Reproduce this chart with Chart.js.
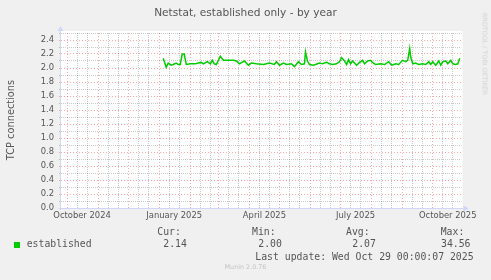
<!DOCTYPE html>
<html><head><meta charset="utf-8">
<script src="https://cdn.jsdelivr.net/npm/chart.js@4/dist/chart.umd.min.js"></script>
<style>
html,body{margin:0;padding:0;background:#F0F0F0;}
#wrap{position:relative;width:491px;height:280px;overflow:hidden;background:#F0F0F0;}
canvas{position:absolute;left:0;top:0;}
.t{position:absolute;white-space:pre;color:#555;}
.s{font-family:"DejaVu Sans",sans-serif;}
.m{font-family:"DejaVu Sans Mono",monospace;font-size:9.8px;line-height:10px;}
</style></head><body>
<div id="wrap">
<canvas id="c" width="491" height="280"></canvas>
<div class="t s" style="left:0;width:491px;text-align:center;top:5.5px;font-size:10.6px;line-height:12px;">Netstat, established only - by year</div>
<div class="t s" style="left:9.5px;top:120px;font-size:9.8px;line-height:11px;transform:translate(-50%,-50%) rotate(-90deg);">TCP connections</div>
<div class="t s" style="left:484px;top:54px;font-size:6.4px;line-height:7px;color:#d2d2d2;transform:translate(-50%,-50%) rotate(90deg);">RRDTOOL / TOBI OETIKER</div>
<div style="position:absolute;left:14px;top:242px;width:6px;height:6px;background:#00CC00;"></div>
<div class="t m" style="left:26.7px;top:239.3px;">established</div>
<div class="t m" style="left:157.3px;top:227.3px;">Cur:</div>
<div class="t m" style="left:163.3px;top:239.3px;">2.14</div>
<div class="t m" style="left:252px;top:227.3px;">Min:</div>
<div class="t m" style="left:258.3px;top:239.3px;">2.00</div>
<div class="t m" style="left:346px;top:227.3px;">Avg:</div>
<div class="t m" style="left:352.3px;top:239.3px;">2.07</div>
<div class="t m" style="left:440.7px;top:227.3px;">Max:</div>
<div class="t m" style="left:441px;top:239.3px;">34.56</div>
<div class="t m" style="left:255.3px;top:251.7px;">Last update: Wed Oct 29 00:00:07 2025</div>
<div class="t s" style="left:0;width:491px;text-align:center;top:264px;font-size:6.4px;line-height:7px;color:#c4c4c4;">Munin 2.0.76</div>
</div>
<script>
// ---- data ----
const dates = [
 '2025-01-05','2025-01-08','2025-01-10','2025-01-13','2025-01-15','2025-01-18','2025-01-20','2025-01-22','2025-01-24','2025-01-26','2025-01-28',
 '2025-02-01','2025-02-06','2025-02-09','2025-02-12','2025-02-14','2025-02-18','2025-02-21','2025-02-23','2025-02-25','2025-02-27',
 '2025-03-03','2025-03-06','2025-03-11','2025-03-16','2025-03-19','2025-03-22','2025-03-27','2025-03-31',
 '2025-04-03','2025-04-08','2025-04-15','2025-04-21','2025-04-26','2025-04-28',
 '2025-05-01','2025-05-05','2025-05-08','2025-05-13','2025-05-16','2025-05-20','2025-05-23','2025-05-26','2025-05-27','2025-05-29','2025-05-31',
 '2025-06-04','2025-06-10','2025-06-13','2025-06-17','2025-06-20','2025-06-23','2025-06-27','2025-06-30',
 '2025-07-02','2025-07-05','2025-07-07','2025-07-09','2025-07-11','2025-07-13','2025-07-17','2025-07-20','2025-07-23','2025-07-25','2025-07-28','2025-07-31',
 '2025-08-02','2025-08-05','2025-08-10','2025-08-14','2025-08-18','2025-08-21','2025-08-25','2025-08-28',
 '2025-09-01','2025-09-04','2025-09-06','2025-09-08','2025-09-09','2025-09-11','2025-09-14','2025-09-17','2025-09-21','2025-09-24','2025-09-27','2025-09-29',
 '2025-10-01','2025-10-04','2025-10-07','2025-10-09','2025-10-11','2025-10-14','2025-10-16','2025-10-19','2025-10-21','2025-10-24','2025-10-26','2025-10-28'
];
const established = [
 2.14,2.01,2.07,2.04,2.05,2.07,2.05,2.05,2.20,2.20,2.05,
 2.06,2.06,2.07,2.08,2.06,2.09,2.06,2.11,2.06,2.05,
 2.17,2.11,2.11,2.11,2.10,2.06,2.10,2.04,
 2.07,2.06,2.05,2.07,2.05,2.09,
 2.04,2.07,2.05,2.06,2.02,2.09,2.05,2.06,2.23,2.10,2.05,
 2.04,2.07,2.06,2.08,2.06,2.05,2.06,2.09,
 2.15,2.10,2.05,2.12,2.06,2.10,2.04,2.08,2.11,2.06,2.10,2.11,
 2.08,2.05,2.06,2.05,2.09,2.04,2.06,2.05,
 2.11,2.09,2.11,2.28,2.16,2.06,2.07,2.05,2.06,2.05,2.09,2.05,
 2.09,2.04,2.10,2.04,2.09,2.10,2.06,2.11,2.06,2.05,2.06,2.14
];
const monthStarts = ['2024-10-01','2024-11-01','2024-12-01','2025-01-01','2025-02-01','2025-03-01','2025-04-01','2025-05-01','2025-06-01','2025-07-01','2025-08-01','2025-09-01','2025-10-01'];
const minorOffsets = [10, 20];
const xLabelDates = ['2024-10-16','2025-01-16','2025-04-16','2025-07-16','2025-10-16'];
const xLabels = ['October 2024','January 2025','April 2025','July 2025','October 2025'];
const xRange = ['2024-09-25', '2025-10-29'];
const yMajor = [0.0,0.2,0.4,0.6,0.8,1.0,1.2,1.4,1.6,1.8,2.0,2.2,2.4];
const yMinor = [0.1,0.3,0.5,0.7,0.9,1.1,1.3,1.5,1.7,1.9,2.1,2.3,2.5];

// ---- helpers ----
const ORIGIN = Date.UTC(2024, 9, 1);
const day = s => (Date.parse(s + 'T00:00:00Z') - ORIGIN) / 864e5;

const RED = 'rgba(255,40,40,0.4)';
const GREY = 'rgba(0,0,0,0.2)';
const AXIS = '#CFD6F8';

const xKind = new Map();
monthStarts.forEach(m => {
  const d = day(m);
  xKind.set(d, 'major');
  minorOffsets.forEach(o => xKind.set(d + o, 'minor'));
});
const xLabelMap = new Map();
xLabelDates.forEach((s, i) => { xKind.set(day(s), 'label'); xLabelMap.set(day(s), xLabels[i]); });
const xMin = day(xRange[0]), xMax = day(xRange[1]) + 0.7;
const xTickVals = [...xKind.keys()].filter(v => v >= xMin && v <= xMax).sort((a, b) => a - b);

const yKind = new Map();
yMajor.forEach(v => yKind.set(Math.round(v * 10), 'major'));
yMinor.forEach(v => yKind.set(Math.round(v * 10), 'minor'));

const points = dates.map((d, i) => ({ x: day(d), y: established[i] }));

const bgPlugin = {
  id: 'bg',
  beforeDraw(chart) {
    const { ctx, chartArea: a } = chart;
    ctx.save();
    ctx.fillStyle = '#FFFFFF';
    ctx.fillRect(a.left, a.top - 2, a.right - a.left + 1, a.bottom - a.top + 2);
    ctx.restore();
  }
};
const axisPlugin = {
  id: 'axes',
  afterDraw(chart) {
    const { ctx, chartArea: a } = chart;
    ctx.save();
    ctx.strokeStyle = AXIS; ctx.fillStyle = AXIS; ctx.lineWidth = 1; ctx.setLineDash([]);
    const yb = Math.round(a.bottom) + 0.5, xl = Math.round(a.left) - 0.5;
    ctx.beginPath();
    ctx.moveTo(xl - 2, yb); ctx.lineTo(a.right + 3, yb);
    ctx.moveTo(xl, a.bottom + 2); ctx.lineTo(xl, a.top - 3);
    ctx.stroke();
    ctx.beginPath();
    ctx.moveTo(a.right + 7, yb); ctx.lineTo(a.right + 2, yb - 3); ctx.lineTo(a.right + 2, yb + 3); ctx.closePath(); ctx.fill();
    ctx.beginPath();
    ctx.moveTo(xl, a.top - 7); ctx.lineTo(xl - 3, a.top - 2); ctx.lineTo(xl + 3, a.top - 2); ctx.closePath(); ctx.fill();
    ctx.restore();
  }
};

// dash per grid line: major (red) lines use wider gaps, minor (grey) lines fine dots
const xDash = c => xKind.get(c.tick && c.tick.value) === 'major' ? [1, 2] : [1, 1];
const yDash = c => yKind.get(Math.round((c.tick ? c.tick.value : 0) * 10)) === 'major' ? [1, 2] : [1, 1];

new Chart(document.getElementById('c'), {
  type: 'line',
  data: { datasets: [{
    label: 'established', data: points,
    borderColor: '#00CC00', borderWidth: 1.5, pointRadius: 0, tension: 0, fill: false
  }]},
  options: {
    responsive: false, devicePixelRatio: 1, animation: false,
    layout: { padding: { left: 0, top: 33, right: 29.5, bottom: 0 } },
    plugins: { legend: { display: false }, title: { display: false }, tooltip: { enabled: false } },
    scales: {
      x: {
        type: 'linear', min: xMin, max: xMax,
        afterFit: s => { s.height = 72; },
        afterBuildTicks: s => { s.ticks = xTickVals.map(v => ({ value: v })); },
        ticks: {
          autoSkip: false, maxRotation: 0, minRotation: 0, padding: 3,
          color: '#555', font: { family: 'DejaVu Sans', size: 8.4 },
          callback: v => xLabelMap.get(v) || ''
        },
        grid: {
          drawTicks: false, lineWidth: 1,
          color: c => { const k = xKind.get(c.tick && c.tick.value); return k === 'major' ? RED : k === 'minor' ? GREY : 'rgba(0,0,0,0)'; }
        },
        border: { display: false, dash: xDash }
      },
      y: {
        type: 'linear', min: 0, max: 2.5,
        afterFit: s => { s.width = 61; },
        afterBuildTicks: s => { s.ticks = [...yMajor, ...yMinor].sort((a, b) => a - b).map(v => ({ value: v })); },
        ticks: {
          autoSkip: false, padding: 5,
          color: '#555', font: { family: 'DejaVu Sans', size: 8.4 },
          callback: v => yKind.get(Math.round(v * 10)) === 'major' ? v.toFixed(1) : ''
        },
        grid: {
          drawTicks: true, tickLength: 2, lineWidth: 1, tickBorderDash: [],
          color: c => yKind.get(Math.round((c.tick ? c.tick.value : 0) * 10)) === 'major' ? RED : GREY
        },
        border: { display: false, dash: yDash }
      }
    }
  },
  plugins: [bgPlugin, axisPlugin]
});
</script>
</body></html>
